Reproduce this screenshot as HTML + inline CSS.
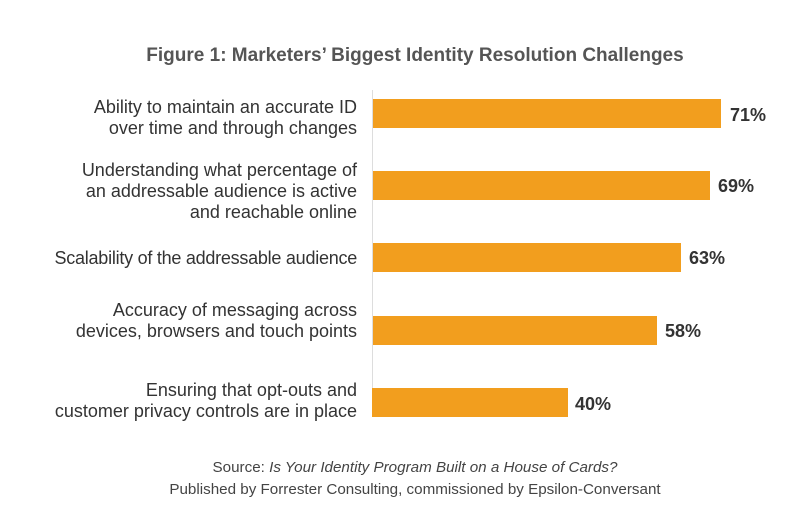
<!DOCTYPE html>
<html><head><style>
body{margin:0;width:800px;height:513px;background:#fff;position:relative;overflow:hidden;font-family:"Liberation Sans",sans-serif;}
.t{position:absolute;left:0;width:830px;text-align:center;top:45px;font-size:19px;font-weight:bold;color:#555;}
.l{position:absolute;right:443px;text-align:right;font-size:18px;line-height:21px;color:#333;white-space:nowrap;}
.b{position:absolute;left:373px;height:29px;background:#f29e1e;}
.v{position:absolute;font-size:18px;font-weight:bold;color:#333;line-height:20px;}
.ax{position:absolute;left:372px;top:90px;width:1px;height:300px;background:#ddd;}
.s{position:absolute;left:15px;width:800px;text-align:center;font-size:15.2px;color:#444;line-height:22px;top:457px;}
</style></head><body>
<div class="t">Figure 1: Marketers’ Biggest Identity Resolution Challenges</div>
<div class="ax"></div>
<div class="l" style="top:97px">Ability to maintain an accurate ID<br>over time and through changes</div>
<div class="l" style="top:160px">Understanding what percentage of<br>an addressable audience is active<br>and reachable online</div>
<div class="l" style="top:248px;letter-spacing:-0.25px">Scalability of the addressable audience</div>
<div class="l" style="top:300px">Accuracy of messaging across<br>devices, browsers and touch points</div>
<div class="l" style="top:380px">Ensuring that opt-outs and<br>customer privacy controls are in place</div>
<div class="b" style="top:99px;width:348px"></div>
<div class="b" style="top:171px;width:337px"></div>
<div class="b" style="top:243px;width:308px"></div>
<div class="b" style="top:316px;width:284px"></div>
<div class="b" style="top:388px;left:372px;width:196px"></div>
<div class="v" style="left:730px;top:105px">71%</div>
<div class="v" style="left:718px;top:176px">69%</div>
<div class="v" style="left:689px;top:248px">63%</div>
<div class="v" style="left:665px;top:321px">58%</div>
<div class="v" style="left:575px;top:394px">40%</div>
<div class="s">Source: <i>Is Your Identity Program Built on a House of Cards?</i><br>Published by Forrester Consulting, commissioned by Epsilon-Conversant</div>
</body></html>
